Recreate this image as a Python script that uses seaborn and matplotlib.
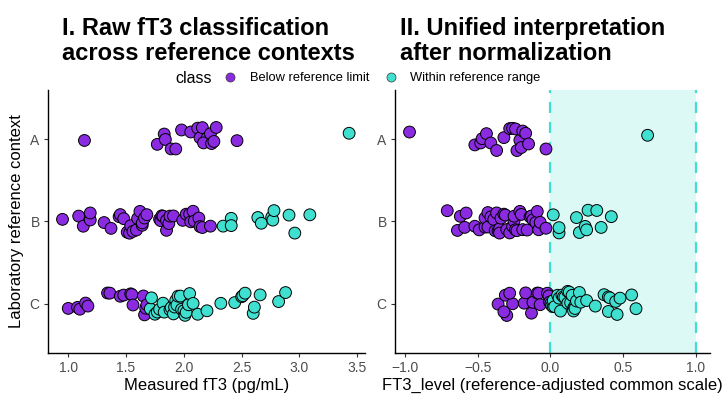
import numpy as np
import pandas as pd
import matplotlib
matplotlib.use("Agg")
import matplotlib.pyplot as plt
from matplotlib.lines import Line2D
import seaborn as sns

# raw fT3 values (pg/mL)
raw_a_below = [1.14, 1.77, 1.83, 1.84, 1.89, 1.93, 1.98, 2.06, 2.12, 2.14,
               2.16, 2.20, 2.17, 2.23, 2.24, 2.26, 2.28, 2.46]
raw_a_within = [3.43]
raw_b_below = [0.95, 1.09, 1.13, 1.19, 1.19, 1.31, 1.37, 1.44, 1.45, 1.48,
               1.51, 1.53, 1.54, 1.56, 1.59, 1.60, 1.62, 1.64, 1.64, 1.66,
               1.68, 1.79, 1.80, 1.81, 1.82, 1.85, 1.85, 1.87, 1.88, 1.91,
               1.99, 2.02, 2.05, 2.06, 2.08, 2.09, 2.13, 2.14, 2.16, 2.23]
raw_b_within = [2.34, 2.41, 2.41, 2.64, 2.67, 2.76, 2.77, 2.78, 2.91, 2.96, 3.09]
raw_c_below = [1.00, 1.08, 1.10, 1.15, 1.17, 1.34, 1.36, 1.45, 1.48, 1.54,
               1.55, 1.56, 1.65, 1.66, 1.67, 1.68]
raw_c_within = [1.71, 1.72, 1.75, 1.77, 1.79, 1.82, 1.83, 1.88, 1.89, 1.91,
                1.92, 1.93, 1.94, 1.95, 1.97, 1.98, 2.00, 2.01, 2.02, 2.04,
                2.05, 2.08, 2.12, 2.20, 2.32, 2.44, 2.50, 2.51, 2.53, 2.60,
                2.61, 2.66, 2.82, 2.88]

# normalised values (common scale)
norm_a_below = [-0.97, -0.52, -0.48, -0.47, -0.44, -0.41, -0.37, -0.32, -0.28,
                -0.26, -0.24, -0.23, -0.21, -0.20, -0.19, -0.17, -0.15, -0.03]
norm_a_within = [0.67]
norm_b_below = [-0.71, -0.64, -0.62, -0.59, -0.58, -0.52, -0.49, -0.45, -0.45,
                -0.43, -0.43, -0.41, -0.39, -0.38, -0.37, -0.36, -0.35, -0.35,
                -0.34, -0.32, -0.31, -0.30, -0.28, -0.26, -0.25, -0.25, -0.24,
                -0.23, -0.21, -0.20, -0.19, -0.16, -0.14, -0.13, -0.12, -0.10,
                -0.09, -0.08, -0.07, -0.03]
norm_b_within = [0.02, 0.06, 0.06, 0.18, 0.20, 0.24, 0.25, 0.26, 0.32, 0.35, 0.42]
norm_c_below = [-0.36, -0.31, -0.30, -0.26, -0.32, -0.28, -0.18, -0.17, -0.13,
                -0.12, -0.09, -0.08, -0.07, -0.02, -0.01, -0.005]
norm_c_within = [0.005, 0.01, 0.02, 0.02, 0.03, 0.05, 0.06, 0.07, 0.08, 0.09,
                 0.10, 0.12, 0.12, 0.13, 0.14, 0.15, 0.16, 0.16, 0.17, 0.17,
                 0.18, 0.20, 0.21, 0.25, 0.31, 0.37, 0.40, 0.40, 0.41, 0.45,
                 0.46, 0.48, 0.56, 0.59]

contexts = ["A", "B", "C"]
classes = ["Below reference limit", "Within reference range"]
palette = {"Below reference limit": "#8A2BE2", "Within reference range": "#40E0D0"}
ref_low, ref_high = 0.0, 1.0


def build(groups):
    rows = []
    for ctx, below, within in groups:
        rows += [(ctx, v, classes[0]) for v in below]
        rows += [(ctx, v, classes[1]) for v in within]
    return pd.DataFrame(rows, columns=["context", "value", "class"])


raw = build([("A", raw_a_below, raw_a_within),
             ("B", raw_b_below, raw_b_within),
             ("C", raw_c_below, raw_c_within)])
norm = build([("A", norm_a_below, norm_a_within),
              ("B", norm_b_below, norm_b_within),
              ("C", norm_c_below, norm_c_within)])

sns.set_theme(style="ticks")
plt.rcParams["font.family"] = ["Liberation Sans", "DejaVu Sans"]
plt.rcParams["text.color"] = "black"

fig = plt.figure(figsize=(7.28, 4.03), dpi=100)
ax1 = fig.add_axes([0.066, 0.124, 0.435, 0.653])
ax2 = fig.add_axes([0.5426, 0.124, 0.4327, 0.653])

np.random.seed(3)
for ax, df in [(ax1, raw), (ax2, norm)]:
    sns.stripplot(data=df, x="value", y="context", hue="class", order=contexts,
                  hue_order=classes, palette=palette, jitter=0.15, size=8.5,
                  linewidth=0.7, edgecolor="black", orient="h", legend=False,
                  ax=ax, zorder=3)

ax2.axvspan(ref_low, ref_high, color="#40E0D0", alpha=0.18, lw=0, zorder=0)
for v in (ref_low, ref_high):
    ax2.axvline(v, color="#40E0D0", ls=(0, (5, 4)), lw=1.6, zorder=1)

ax1.set_xlim(0.825, 3.565)
ax2.set_xlim(-1.07, 1.10)
ax1.set_xticks([1.0, 1.5, 2.0, 2.5, 3.0, 3.5])
ax2.set_xticks([-1.0, -0.5, 0.0, 0.5, 1.0])
ax2.set_xticklabels(["\u22121.0", "\u22120.5", "0.0", "0.5", "1.0"])

for ax in (ax1, ax2):
    ax.set_ylim(2.6, -0.6)
    sns.despine(ax=ax)
    ax.spines["left"].set_linewidth(1.0)
    ax.spines["bottom"].set_linewidth(1.0)
    ax.spines["left"].set_color("black")
    ax.spines["bottom"].set_color("black")
    ax.tick_params(axis="both", length=3, width=0.8, color="#333333",
                   labelsize=10, labelcolor="#4D4D4D", pad=3)
    ax.set_ylabel("")

ax1.set_xlabel("Measured fT3 (pg/mL)", fontsize=12, color="black", labelpad=2)
ax2.set_xlabel("FT3_level (reference-adjusted common scale)", fontsize=12,
               color="black", labelpad=2)
ax1.set_ylabel("Laboratory reference context", fontsize=12, color="black",
               labelpad=4)

fig.text(0.085, 0.958, "I. Raw fT3 classification\nacross reference contexts",
         fontsize=17, fontweight="bold", va="top", ha="left", linespacing=1.1,
         color="black")
fig.text(0.549, 0.958, "II. Unified interpretation\nafter normalization",
         fontsize=17, fontweight="bold", va="top", ha="left", linespacing=1.1,
         color="black")

handles = [Line2D([], [], marker="o", ls="", ms=6.5, mfc=palette[c],
                  mec="#333333", mew=0.5) for c in classes]
fig.legend(handles, classes, loc="center", bbox_to_anchor=(0.525, 0.806),
           ncol=2, frameon=False, fontsize=9.3, handlelength=1.0,
           handletextpad=1.0, columnspacing=1.2, borderpad=0)
fig.text(0.266, 0.806, "class", fontsize=11.5, va="center", ha="center")

fig.savefig("out.png", dpi=100)
